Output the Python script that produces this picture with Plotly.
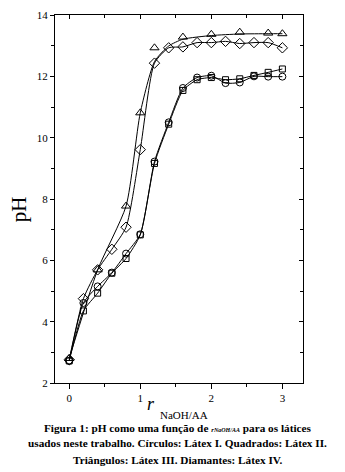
import plotly.graph_objects as go

# Data
x_full = [0, 0.2, 0.4, 0.6, 0.8, 1.0, 1.2, 1.4, 1.6, 1.8, 2.0, 2.2, 2.4, 2.6, 2.8, 3.0]
ph_circles = [2.72, 4.61, 5.15, 5.60, 6.22, 6.85, 9.22, 10.50, 11.62, 11.96, 12.02, 11.78, 11.80, 12.00, 11.99, 11.99]
ph_squares = [2.72, 4.35, 4.93, 5.58, 6.06, 6.83, 9.16, 10.44, 11.54, 11.89, 11.96, 11.89, 11.92, 12.03, 12.13, 12.24]
ph_diamonds = [2.76, 4.75, 5.69, 6.36, 7.08, 9.61, 12.43, 12.93, 12.96, 13.10, 13.10, 13.14, 13.07, 13.10, 13.10, 12.93]
x_tri = [0, 0.4, 0.8, 1.0, 1.2, 1.6, 2.0, 2.4, 2.8, 3.0]
ph_triangles = [2.80, 5.69, 7.77, 10.81, 12.93, 13.28, 13.37, 13.44, 13.41, 13.39]
# smooth curve drawn through the triangle series
x_tri_curve = [0, 0.4, 0.8, 1.0, 1.2, 1.4, 1.6, 2.0, 2.4, 2.8, 3.0]
ph_tri_curve = [2.80, 5.69, 7.77, 10.81, 12.48, 12.99, 13.21, 13.33, 13.38, 13.39, 13.39]

x_ticks = [0, 1, 2, 3]
y_ticks = [2, 4, 6, 8, 10, 12, 14]

LINE = dict(color="black", width=1, shape="spline", smoothing=0.6)

fig = go.Figure()
for name, xs, ys, sym, sz in [
    ("Látex I", x_full, ph_circles, "circle-open", 7),
    ("Látex II", x_full, ph_squares, "square-open", 6),
    ("Látex IV", x_full, ph_diamonds, "diamond-open", 8),
]:
    fig.add_trace(go.Scatter(
        x=xs, y=ys, mode="lines+markers", name=name, line=LINE,
        marker=dict(symbol=sym, size=sz, color="black", line=dict(width=1, color="black")),
        showlegend=False,
    ))

fig.add_trace(go.Scatter(x=x_tri_curve, y=ph_tri_curve, mode="lines", line=LINE,
                         showlegend=False, hoverinfo="skip"))
fig.add_trace(go.Scatter(x=x_tri, y=ph_triangles, mode="markers", name="Látex III",
                         marker=dict(symbol="triangle-up-open", size=8, color="black",
                                     line=dict(width=1, color="black")),
                         showlegend=False))

# invisible trace on mirrored axes
fig.add_trace(go.Scatter(x=[0], y=[2], xaxis="x2", yaxis="y2", mode="markers",
                         marker=dict(opacity=0), showlegend=False, hoverinfo="skip"))

XR = [-0.2, 3.29]
YR = [2, 14]
tickfont = dict(family="Liberation Serif", size=11, color="black")

fig.update_layout(
    width=345, height=472,
    margin=dict(l=55, r=42, t=9, b=89),
    paper_bgcolor="white", plot_bgcolor="white",
    xaxis=dict(range=XR, tickvals=x_ticks, ticks="outside", ticklen=5, tickcolor="black",
               showline=True, linecolor="black", linewidth=1, showgrid=False, zeroline=False,
               tickfont=tickfont,
               minor=dict(tickvals=[0.5, 1.5, 2.5], ticks="outside", ticklen=3, tickcolor="black")),
    yaxis=dict(range=YR, tickvals=y_ticks, ticks="outside", ticklen=4, tickcolor="black",
               showline=True, linecolor="black", linewidth=1, showgrid=False, zeroline=False,
               tickfont=tickfont,
               minor=dict(tickvals=[3, 5, 7, 9, 11, 13], ticks="outside", ticklen=3, tickcolor="black")),
    xaxis2=dict(range=XR, overlaying="x", side="top", tickvals=x_ticks, ticks="inside", ticklen=4,
                tickcolor="black", showline=True, linecolor="black", linewidth=1, showgrid=False,
                zeroline=False, showticklabels=False,
                minor=dict(tickvals=[0.5, 1.5, 2.5], ticks="inside", ticklen=3, tickcolor="black")),
    yaxis2=dict(range=YR, overlaying="y", side="right", tickvals=y_ticks, ticks="inside", ticklen=4,
                tickcolor="black", showline=True, linecolor="black", linewidth=1, showgrid=False,
                zeroline=False, showticklabels=False,
                minor=dict(tickvals=[3, 5, 7, 9, 11, 13], ticks="inside", ticklen=3, tickcolor="black")),
)

# axis titles
fig.add_annotation(text="pH", xref="paper", yref="paper", x=(18.5 - 55) / 248, y=(383 - 207) / 374,
                   showarrow=False, textangle=-90,
                   font=dict(family="Liberation Serif", size=21, color="black"),
                   xanchor="center", yanchor="middle")
fig.add_annotation(text="<i>r</i>", xref="paper", yref="paper", x=(151 - 55) / 248, y=(383 - 404) / 374,
                   showarrow=False, font=dict(family="Liberation Serif", size=18, color="black"),
                   xanchor="center", yanchor="middle")
fig.add_annotation(text="NaOH/AA", xref="paper", yref="paper", x=(210 - 55) / 248, y=(383 - 416) / 374,
                   showarrow=False, font=dict(family="Liberation Serif", size=11, color="black"),
                   xanchor="right", yanchor="middle")

# caption
cap_font = dict(family="Liberation Serif", size=11.25, color="black")
captions = [
    ("<b>Figura 1: pH como uma função de <i><span style='font-size:7px'>r</span><span style='font-size:6px'>NaOH/AA</span></i> para os látices</b>", 429),
    ("<b>usados neste trabalho. Círculos: Látex I. Quadrados: Látex II.</b>", 444),
    ("<b>Triângulos: Látex III. Diamantes: Látex IV.</b>", 461),
]
for txt, py in captions:
    fig.add_annotation(text=txt, xref="paper", yref="paper",
                       x=(177.5 - 55) / 248, y=(383 - py) / 374, showarrow=False,
                       font=cap_font, xanchor="center", yanchor="middle")

fig.write_html("out.html", config={"displayModeBar": False},
               post_script="document.body.style.margin='0';document.body.style.overflow='hidden';")
